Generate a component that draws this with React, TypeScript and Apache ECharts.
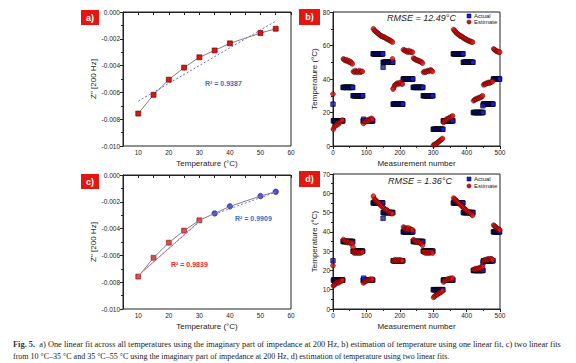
import React, { useEffect, useRef } from "react";
import * as echarts from "echarts";

// ---- Panel a / c data: imaginary impedance at 200 Hz vs temperature ----
const TEMPS = [10, 15, 20, 25, 30, 35, 40, 50, 55];
const ZIMAG = [-0.00758, -0.00618, -0.00505, -0.00415, -0.00338, -0.00287, -0.00234, -0.00157, -0.00125];
const FIT_A = [[10, -0.00665], [55, -0.00068]];
const FIT_C_LOW = [[10, -0.0075], [30, -0.00345]];
const FIT_C_LOW_DOTTED = [[11, -0.00728], [30, -0.0035]];
const FIT_C_HIGH = [[35, -0.00292], [55, -0.00128]];
const LOW_COUNT = 5; // first five points (10–30 °C) red, rest blue in c)

// ---- Panel b / d data: actual temperature steps [start, end, °C] ----
const ACTUAL_STEPS = [
  [1, 29, 15], [30, 59, 35], [60, 89, 30], [90, 119, 15], [120, 149, 55], [150, 179, 50],
  [180, 209, 25], [210, 239, 40], [240, 269, 35], [270, 299, 30], [300, 329, 10], [330, 359, 15],
  [360, 389, 55], [390, 419, 50], [420, 449, 20], [450, 479, 25], [480, 499, 40],
];
const ACTUAL_TRANSITIONS = [[0, 25], [92, 16], [150, 47], [449, 24]];

// estimate segments: [first measurement, values every 3 measurements]
const EST_B_SEGMENTS: [number, number[]][] = [
  [1, [10, 11.5, 12, 12.5, 13.5, 13, 14, 14.5, 15, 15.5]],
  [31, [52, 51.5, 51, 51.5, 50.5, 51, 50, 50.5, 49.5, 49]],
  [61, [44.5, 44, 45, 44.5, 44, 44.5, 45, 44, 44.5, 44.5]],
  [91, [13.5, 14.5, 14.5, 15, 15.5, 15, 16, 15.5, 16.5, 16]],
  [121, [70, 69, 68.5, 68, 67.5, 67, 66.5, 66, 65.5, 65.5, 65, 65, 64.5, 64, 64, 63.5, 63, 63, 62.5, 62]],
  [181, [34.5, 36, 36.5, 37, 37.5, 37, 37.5, 38, 37, 37]],
  [211, [57.5, 57, 57, 56.5, 56, 57, 56, 56.5, 56, 56]],
  [241, [52.5, 52, 51.5, 51.5, 51, 51, 50.5, 50.5, 50, 49.5]],
  [271, [44, 44.5, 44, 44.5, 45, 44.5, 45, 45.5, 45, 44.5]],
  [301, [0.5, 1, 1, 1.5, 2, 2.5, 3, 3.5, 4, 4.5]],
  [331, [14, 15, 15.5, 16, 16, 16.5, 17, 17, 17.5, 18]],
  [361, [69.5, 69, 68, 67.5, 67, 66.5, 66, 65.5, 65.5, 65, 64.5, 64, 64, 63.5, 63, 63, 62.5, 62.5, 62, 62]],
  [421, [27, 27.5, 28, 28, 28.5, 28.5, 29, 29, 29.5, 30]],
  [451, [36.5, 37, 37, 37.5, 37.5, 38, 37.5, 38, 38.5, 38.5]],
  [481, [58, 57.5, 57, 56.5, 56.5, 56, 56]],
];
const EST_B_EXTRA = [[0, 31], [178, 52], [180, 34]];

const EST_D_SEGMENTS: [number, number[]][] = [
  [1, [12, 12.5, 13, 13.5, 14, 13.5, 14, 14.5, 14.5, 15]],
  [31, [36, 35.5, 35, 35, 34.5, 35, 34.5, 34, 34.5, 34]],
  [61, [29.5, 29, 29.5, 29, 29.5, 29, 29.5, 29, 29.5, 29.5]],
  [91, [13.5, 14, 14.5, 14.5, 15, 15, 15, 15.5, 15, 15.5]],
  [121, [58.5, 57, 56.5, 56, 55.5, 55, 54.5, 54, 53.5, 53, 52.5, 52, 51.5, 51.5, 51, 50.5, 50, 50, 49.5, 49.5]],
  [181, [25, 25.5, 25, 25.5, 25, 25.5, 25, 25.5, 25, 25]],
  [211, [42.5, 42, 41.5, 42, 41.5, 42, 41, 41.5, 41, 41]],
  [241, [36, 35.5, 35, 35, 34.5, 35, 34.5, 34, 34, 33]],
  [271, [29.5, 29.5, 29, 29.5, 29, 29.5, 29, 29.5, 29.5, 29]],
  [301, [6, 6.5, 7, 7.5, 7.5, 8, 8.5, 8.5, 9, 9.5]],
  [331, [14, 14.5, 15, 15, 15.5, 15.5, 15.5, 16, 15.5, 16]],
  [361, [57.5, 57, 56.5, 56, 55.5, 55, 54.5, 54, 53.5, 53, 52.5, 52, 51.5, 51, 50.5, 50, 50, 49.5, 49, 48.5]],
  [421, [20.5, 20.5, 21, 20.5, 21, 21, 21.5, 21, 21.5, 22]],
  [451, [25, 25.5, 25.5, 25.5, 26, 25.5, 26, 26, 26, 25.5]],
  [481, [43.5, 43, 42.5, 42, 41.5, 41.5, 41]],
];
const EST_D_EXTRA = [[0, 22.5], [60, 32]];

const CAPTION_1 =
  "a) One linear fit across all temperatures using the imaginary part of impedance at 200 Hz, b) estimation of temperature using one linear fit, c) two linear fits";
const CAPTION_2 =
  "from 10 \u00B0C\u201335 \u00B0C and 35 \u00B0C\u201355 \u00B0C using the imaginary part of impedance at 200 Hz, d) estimation of temperature using two linear fits.";

const SANS = "Liberation Sans, Arial, sans-serif";
const SERIF = "Liberation Serif, DejaVu Serif, serif";
const RED = "#e3140e";
const BLUE = "#1a1ae0";

function expandSegments(segs: [number, number[]][], extra: number[][]) {
  const pts: number[][] = [];
  segs.forEach(([start, vals]) => vals.forEach((v, i) => pts.push([start + 3 * i, v])));
  return pts.concat(extra);
}

function actualPoints() {
  const pts: number[][] = [];
  ACTUAL_STEPS.forEach(([s, e, t]) => {
    for (let m = s; m <= e; m += 2) pts.push([m, t]);
    pts.push([e, t]);
  });
  return pts.concat(ACTUAL_TRANSITIONS);
}

function axisCommon(gridIndex: number) {
  return {
    gridIndex,
    type: "value" as const,
    axisLine: { show: true, lineStyle: { color: "#222", width: 1 } },
    axisTick: { show: true, inside: false, length: 3, lineStyle: { color: "#222" } },
    minorTick: { show: true, splitNumber: 2, length: 2, lineStyle: { color: "#222" } },
    splitLine: { show: false },
    axisLabel: { fontSize: 6.5, color: "#222", fontFamily: SANS, margin: 3 },
    nameLocation: "middle" as const,
    nameTextStyle: { fontSize: 8, color: "#222", fontFamily: SANS },
  };
}

function tempXAxis(gridIndex: number) {
  const a: any = axisCommon(gridIndex);
  return {
    ...a,
    min: 5,
    max: 60,
    name: "Temperature (\u00B0C)",
    nameGap: 13,
    minorTick: { show: false },
    axisTick: { ...a.axisTick, customValues: [5, 10, 15, 20, 25, 30, 35, 40, 45, 50, 55, 60] },
    axisLabel: { ...a.axisLabel, customValues: [10, 20, 30, 40, 50, 60] },
  };
}

function zYAxis(gridIndex: number) {
  const a: any = axisCommon(gridIndex);
  return {
    ...a,
    min: -0.01,
    max: 0,
    interval: 0.002,
    name: 'Z" [200 Hz]',
    nameGap: 25,
    axisLabel: { ...a.axisLabel, formatter: (v: number) => v.toFixed(3) },
  };
}

function measXAxis(gridIndex: number) {
  return {
    ...axisCommon(gridIndex),
    min: 0,
    max: 500,
    interval: 100,
    name: "Measurement number",
    nameGap: 13,
  };
}

function tempYAxis(gridIndex: number, max: number, interval: number) {
  return {
    ...axisCommon(gridIndex),
    min: 0,
    max,
    interval,
    name: "Temperature (\u00B0C)",
    nameGap: 12,
  };
}

function panelLabel(x: number, y: number, w: number, h: number, label: string) {
  return {
    type: "group",
    children: [
      { type: "rect", shape: { x, y, width: w, height: h }, style: { fill: "#e5150f" } },
      {
        type: "text",
        x: x + w / 2,
        y: y + h / 2,
        style: { text: label, fill: "#fff", font: `bold 9px ${SANS}`, align: "center", verticalAlign: "middle" },
      },
    ],
  };
}

function txt(x: number, y: number, text: string, font: string, fill: string, align = "left") {
  return { type: "text", x, y, style: { text, font, fill, align, verticalAlign: "middle" } };
}

function legend(x: number, y1: number, y2: number) {
  return [
    { type: "rect", shape: { x: x - 2, y: y1 - 2, width: 4, height: 4 }, style: { fill: BLUE, stroke: "#000", lineWidth: 0.5 } },
    txt(x + 5, y1, "Actual", `6px ${SANS}`, "#222"),
    { type: "circle", shape: { cx: x, cy: y2, r: 2.1 }, style: { fill: RED, stroke: "#400", lineWidth: 0.5 } },
    txt(x + 5, y2, "Estimate", `6px ${SANS}`, "#222"),
  ];
}

export default function App() {
  const ref = useRef<HTMLDivElement>(null);
  useEffect(() => {
    if (!ref.current) return;
    const chart = echarts.init(ref.current, null, { renderer: "svg" });
    const zPts = TEMPS.map((t, i) => [t, ZIMAG[i]]);
    const actual = actualPoints();
    const estB = expandSegments(EST_B_SEGMENTS, EST_B_EXTRA);
    const estD = expandSegments(EST_D_SEGMENTS, EST_D_EXTRA);
    const gridStyle = { show: true, borderColor: "#222", borderWidth: 1, backgroundColor: "transparent", containLabel: false };

    const actualSeries = (i: number) => ({
      type: "scatter",
      xAxisIndex: i,
      yAxisIndex: i,
      data: actual,
      symbol: "rect",
      symbolSize: 4.5,
      itemStyle: { color: BLUE, borderColor: "#000", borderWidth: 0.8 },
    });
    const estSeries = (i: number, data: number[][]) => ({
      type: "scatter",
      xAxisIndex: i,
      yAxisIndex: i,
      data,
      symbol: "circle",
      symbolSize: 4.8,
      itemStyle: { color: RED, borderColor: "#3a0000", borderWidth: 0.6 },
    });

    chart.setOption({
      animation: false,
      grid: [
        { left: 123, top: 12, width: 168, height: 134, ...gridStyle },
        { left: 333, top: 12, width: 167, height: 134, ...gridStyle },
        { left: 123, top: 175, width: 168, height: 134, ...gridStyle },
        { left: 333, top: 174, width: 167, height: 135, ...gridStyle },
      ],
      xAxis: [tempXAxis(0), measXAxis(1), tempXAxis(2), measXAxis(3)],
      yAxis: [zYAxis(0), tempYAxis(1, 80, 20), zYAxis(2), tempYAxis(3, 70, 10)],
      series: [
        // a)
        {
          type: "line", xAxisIndex: 0, yAxisIndex: 0, data: FIT_A, symbol: "none",
          lineStyle: { color: "#6a6af0", width: 1, type: [2, 2] },
        },
        {
          type: "line", xAxisIndex: 0, yAxisIndex: 0, data: zPts, symbol: "rect", symbolSize: 5,
          lineStyle: { color: "#808080", width: 1 },
          itemStyle: { color: RED, borderColor: "#500", borderWidth: 0.6 },
        },
        // b)
        actualSeries(1),
        estSeries(1, estB),
        // c)
        {
          type: "line", xAxisIndex: 2, yAxisIndex: 2, data: zPts, symbol: "none",
          lineStyle: { color: "#808080", width: 1 },
        },
        {
          type: "line", xAxisIndex: 2, yAxisIndex: 2, data: FIT_C_LOW, symbol: "none",
          lineStyle: { color: "#f07070", width: 1 },
        },
        {
          type: "line", xAxisIndex: 2, yAxisIndex: 2, data: FIT_C_LOW_DOTTED, symbol: "none",
          lineStyle: { color: "#7a7af0", width: 1, type: [2, 2] },
        },
        {
          type: "line", xAxisIndex: 2, yAxisIndex: 2, data: FIT_C_HIGH, symbol: "none",
          lineStyle: { color: "#6a6af0", width: 1, type: [2, 2] },
        },
        {
          type: "scatter", xAxisIndex: 2, yAxisIndex: 2, data: zPts.slice(0, LOW_COUNT), symbol: "rect", symbolSize: 5,
          itemStyle: { color: RED, borderColor: "#500", borderWidth: 0.6 },
        },
        {
          type: "scatter", xAxisIndex: 2, yAxisIndex: 2, data: zPts.slice(LOW_COUNT), symbol: "circle", symbolSize: 5.5,
          itemStyle: { color: BLUE, borderColor: "#000050", borderWidth: 0.6 },
        },
        // d)
        actualSeries(3),
        estSeries(3, estD),
      ],
      graphic: [
        panelLabel(81, 10, 18, 15, "a)"),
        panelLabel(299, 9, 21, 16, "b)"),
        panelLabel(81, 174, 18, 15, "c)"),
        panelLabel(299, 171, 21, 16, "d)"),
        txt(205, 83, "R\u00B2 = 0.9387", `bold 7px ${SANS}`, "#3d6cc0"),
        txt(235, 218, "R\u00B2 = 0.9909", `bold 7px ${SANS}`, "#3d6cc0"),
        txt(171, 264, "R\u00B2 = 0.9839", `bold 7px ${SANS}`, "#e8262b"),
        txt(387, 18, "RMSE = 12.49\u00B0C", `italic 9px ${SANS}`, "#222"),
        txt(388, 181, "RMSE = 1.36\u00B0C", `italic 9px ${SANS}`, "#222"),
        ...legend(469, 16, 22),
        ...legend(469, 179, 186),
        {
          type: "text",
          x: 13,
          y: 345,
          scaleX: 1.047,
          style: {
            text: "{b|Fig. 5.}  " + CAPTION_1,
            font: `8px ${SERIF}`,
            fill: "#222",
            verticalAlign: "middle",
            rich: { b: { font: `bold 8px ${SERIF}`, fill: "#333" } },
          },
        },
        txt(13, 356, CAPTION_2, `8px ${SERIF}`, "#222"),
      ],
    });
    return () => chart.dispose();
  }, []);
  return <div ref={ref} style={{ position: "fixed", left: 0, top: 0, width: 576, height: 363, background: "#fff" }} />;
}
